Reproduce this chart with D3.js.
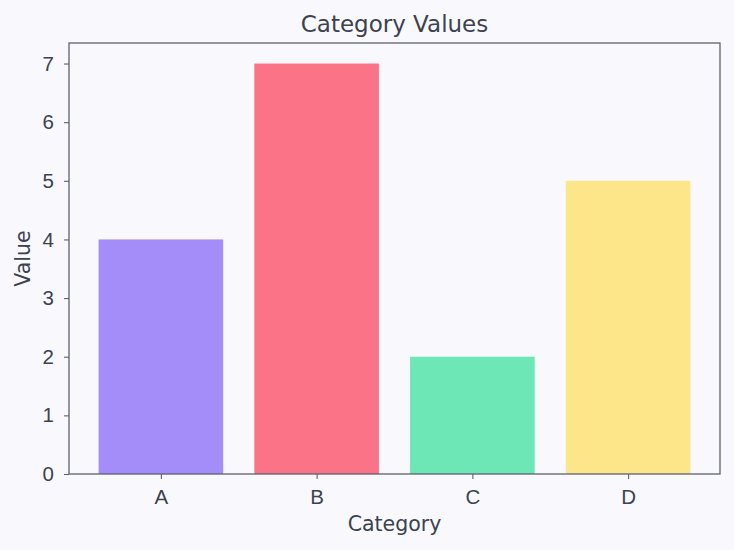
<!DOCTYPE html>
<html>
<head>
<meta charset="utf-8">
<script src="https://cdn.jsdelivr.net/npm/d3@7"></script>
<style>
  body { margin: 0; background: #f9f9fd; }
  svg { display: block; font-family: "DejaVu Sans", sans-serif; }
</style>
</head>
<body>
<svg id="chart" width="734" height="550"></svg>
<script>
// chart data
var categories = ["A", "B", "C", "D"];
var values = [4, 7, 2, 5];
var barColors = ["#a48cf9", "#fb7387", "#6ee7b7", "#fde68a"];
var yTicks = [0, 1, 2, 3, 4, 5, 6, 7];

var svg = d3.select("#chart");
var W = 734, H = 550;
var margin = {top: 43, right: 14, bottom: 76, left: 69},
    width = W - margin.left - margin.right,
    height = H - margin.top - margin.bottom;
var textColor = "#3b4252", spineColor = "#5c6170";
var tickFont = "20.5px";

svg.append("rect").attr("width", W).attr("height", H).attr("fill", "#f9f9fd");

// matplotlib-style margins around bar extents
var x = d3.scaleLinear().domain([-0.59, categories.length - 1 + 0.59]).range([0, width]);
var y = d3.scaleLinear().domain([0, 7.35]).range([height, 0]);
var barW = 0.8;

var g = svg.append("g")
  .attr("transform", "translate(" + margin.left + "," + margin.top + ")");

g.selectAll(".bar")
  .data(values)
  .enter().append("rect")
    .attr("class", "bar")
    .attr("x", function(d, i) { return x(i - barW / 2); })
    .attr("width", function(d, i) { return x(i + barW / 2) - x(i - barW / 2); })
    .attr("y", function(d) { return y(d); })
    .attr("height", function(d) { return y(0) - y(d); })
    .attr("fill", function(d, i) { return barColors[i]; });

// axes
var xAxis = d3.axisBottom(x)
  .tickValues(d3.range(categories.length))
  .tickFormat(function(i) { return categories[i]; })
  .tickSize(5);
var yAxis = d3.axisLeft(y).tickValues(yTicks).tickSize(5).tickPadding(10);

var gx = g.append("g").attr("transform", "translate(0," + height + ")").call(xAxis);
var gy = g.append("g").call(yAxis);

[gx, gy].forEach(function(ax) {
  ax.select(".domain").remove();
  ax.selectAll("line").attr("stroke", spineColor).attr("stroke-width", 1.1);
  ax.selectAll("text").attr("fill", textColor).style("font-size", tickFont);
});
gx.selectAll("text").attr("y", 30).attr("dy", 0);

// frame
g.append("rect")
  .attr("width", width).attr("height", height)
  .attr("fill", "none").attr("stroke", spineColor).attr("stroke-width", 1.3);

// labels
svg.append("text")
  .attr("x", margin.left + width / 2).attr("y", 32)
  .attr("text-anchor", "middle").attr("fill", textColor)
  .style("font-size", "23px").text("Category Values");

svg.append("text")
  .attr("x", margin.left + width / 2).attr("y", 531)
  .attr("text-anchor", "middle").attr("fill", textColor)
  .style("font-size", "20.5px").text("Category");

svg.append("text")
  .attr("transform", "translate(30," + (margin.top + height / 2) + ") rotate(-90)")
  .attr("text-anchor", "middle").attr("fill", textColor)
  .style("font-size", "20.5px").text("Value");
</script>
</body>
</html>
